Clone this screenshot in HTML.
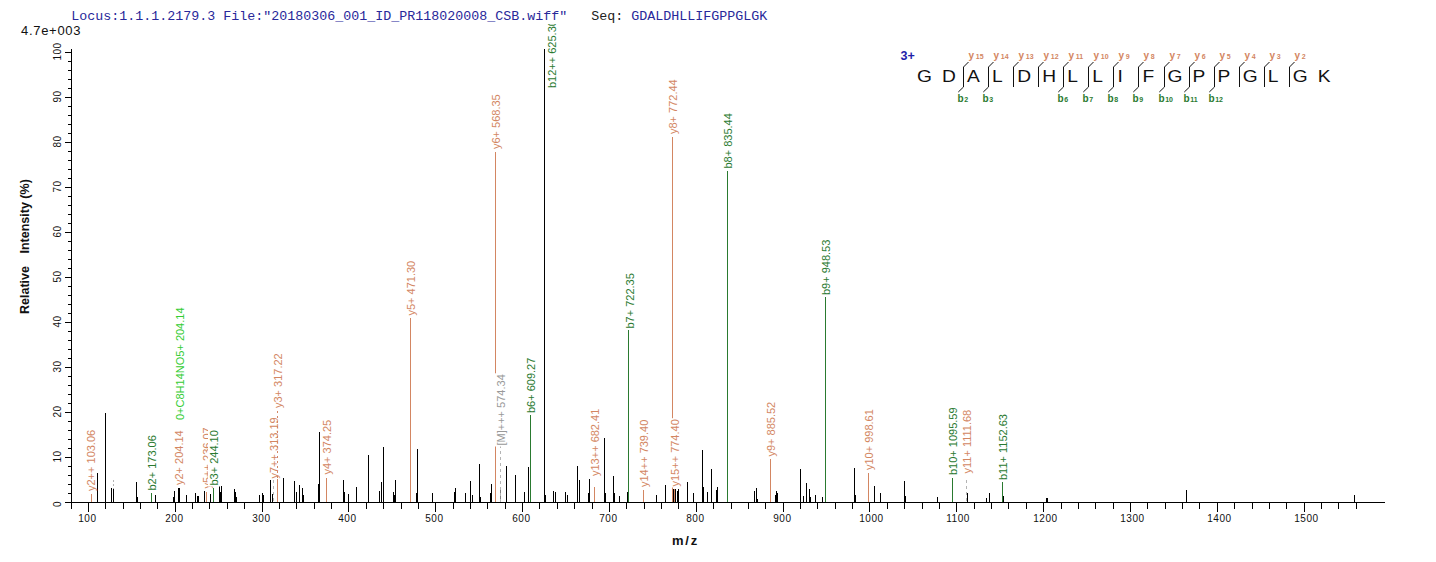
<!DOCTYPE html><html><head><meta charset="utf-8"><style>html,body{margin:0;padding:0;background:#fff;}svg{display:block;}text{font-family:"Liberation Sans",sans-serif;} .mono{font-family:"Liberation Mono",monospace;}</style></head><body>
<svg width="1436" height="562" viewBox="0 0 1436 562">
<rect x="0" y="0" width="1436" height="562" fill="#fff"/>
<text class="mono" x="71.3" y="19.8" font-size="13.33" fill="#28289a" style="white-space:pre" xml:space="preserve">Locus:1.1.1.2179.3 File:"20180306_001_ID_PR118020008_CSB.wiff"   <tspan fill="#222">Seq:</tspan> GDALDHLLIFGPPGLGK</text>
<text x="21" y="35" font-size="13" letter-spacing="0.7" fill="#111">4.7e+003</text>
<g shape-rendering="crispEdges">
<rect x="71" y="49" width="1" height="454" fill="#000000"/>
<rect x="71" y="502" width="1314" height="1" fill="#000000"/>
<rect x="65" y="502" width="6" height="1" fill="#000000"/>
<rect x="68" y="493" width="3" height="1" fill="#000000"/>
<rect x="68" y="484" width="3" height="1" fill="#000000"/>
<rect x="68" y="475" width="3" height="1" fill="#000000"/>
<rect x="68" y="466" width="3" height="1" fill="#000000"/>
<rect x="65" y="457" width="6" height="1" fill="#000000"/>
<rect x="68" y="448" width="3" height="1" fill="#000000"/>
<rect x="68" y="439" width="3" height="1" fill="#000000"/>
<rect x="68" y="430" width="3" height="1" fill="#000000"/>
<rect x="68" y="421" width="3" height="1" fill="#000000"/>
<rect x="65" y="412" width="6" height="1" fill="#000000"/>
<rect x="68" y="403" width="3" height="1" fill="#000000"/>
<rect x="68" y="394" width="3" height="1" fill="#000000"/>
<rect x="68" y="385" width="3" height="1" fill="#000000"/>
<rect x="68" y="376" width="3" height="1" fill="#000000"/>
<rect x="65" y="367" width="6" height="1" fill="#000000"/>
<rect x="68" y="358" width="3" height="1" fill="#000000"/>
<rect x="68" y="349" width="3" height="1" fill="#000000"/>
<rect x="68" y="340" width="3" height="1" fill="#000000"/>
<rect x="68" y="331" width="3" height="1" fill="#000000"/>
<rect x="65" y="322" width="6" height="1" fill="#000000"/>
<rect x="68" y="313" width="3" height="1" fill="#000000"/>
<rect x="68" y="304" width="3" height="1" fill="#000000"/>
<rect x="68" y="295" width="3" height="1" fill="#000000"/>
<rect x="68" y="286" width="3" height="1" fill="#000000"/>
<rect x="65" y="277" width="6" height="1" fill="#000000"/>
<rect x="68" y="268" width="3" height="1" fill="#000000"/>
<rect x="68" y="259" width="3" height="1" fill="#000000"/>
<rect x="68" y="250" width="3" height="1" fill="#000000"/>
<rect x="68" y="241" width="3" height="1" fill="#000000"/>
<rect x="65" y="232" width="6" height="1" fill="#000000"/>
<rect x="68" y="223" width="3" height="1" fill="#000000"/>
<rect x="68" y="214" width="3" height="1" fill="#000000"/>
<rect x="68" y="205" width="3" height="1" fill="#000000"/>
<rect x="68" y="196" width="3" height="1" fill="#000000"/>
<rect x="65" y="187" width="6" height="1" fill="#000000"/>
<rect x="68" y="178" width="3" height="1" fill="#000000"/>
<rect x="68" y="169" width="3" height="1" fill="#000000"/>
<rect x="68" y="160" width="3" height="1" fill="#000000"/>
<rect x="68" y="151" width="3" height="1" fill="#000000"/>
<rect x="65" y="142" width="6" height="1" fill="#000000"/>
<rect x="68" y="133" width="3" height="1" fill="#000000"/>
<rect x="68" y="124" width="3" height="1" fill="#000000"/>
<rect x="68" y="115" width="3" height="1" fill="#000000"/>
<rect x="68" y="106" width="3" height="1" fill="#000000"/>
<rect x="65" y="97" width="6" height="1" fill="#000000"/>
<rect x="68" y="88" width="3" height="1" fill="#000000"/>
<rect x="68" y="79" width="3" height="1" fill="#000000"/>
<rect x="68" y="70" width="3" height="1" fill="#000000"/>
<rect x="68" y="61" width="3" height="1" fill="#000000"/>
<rect x="65" y="52" width="6" height="1" fill="#000000"/>
<rect x="71" y="503" width="1" height="6" fill="#000000"/>
<rect x="88" y="503" width="1" height="9" fill="#000000"/>
<rect x="105" y="503" width="1" height="6" fill="#000000"/>
<rect x="123" y="503" width="1" height="6" fill="#000000"/>
<rect x="140" y="503" width="1" height="6" fill="#000000"/>
<rect x="157" y="503" width="1" height="6" fill="#000000"/>
<rect x="175" y="503" width="1" height="9" fill="#000000"/>
<rect x="192" y="503" width="1" height="6" fill="#000000"/>
<rect x="209" y="503" width="1" height="6" fill="#000000"/>
<rect x="227" y="503" width="1" height="6" fill="#000000"/>
<rect x="244" y="503" width="1" height="6" fill="#000000"/>
<rect x="262" y="503" width="1" height="9" fill="#000000"/>
<rect x="279" y="503" width="1" height="6" fill="#000000"/>
<rect x="296" y="503" width="1" height="6" fill="#000000"/>
<rect x="314" y="503" width="1" height="6" fill="#000000"/>
<rect x="331" y="503" width="1" height="6" fill="#000000"/>
<rect x="348" y="503" width="1" height="9" fill="#000000"/>
<rect x="366" y="503" width="1" height="6" fill="#000000"/>
<rect x="383" y="503" width="1" height="6" fill="#000000"/>
<rect x="401" y="503" width="1" height="6" fill="#000000"/>
<rect x="418" y="503" width="1" height="6" fill="#000000"/>
<rect x="435" y="503" width="1" height="9" fill="#000000"/>
<rect x="453" y="503" width="1" height="6" fill="#000000"/>
<rect x="470" y="503" width="1" height="6" fill="#000000"/>
<rect x="487" y="503" width="1" height="6" fill="#000000"/>
<rect x="505" y="503" width="1" height="6" fill="#000000"/>
<rect x="522" y="503" width="1" height="9" fill="#000000"/>
<rect x="539" y="503" width="1" height="6" fill="#000000"/>
<rect x="557" y="503" width="1" height="6" fill="#000000"/>
<rect x="574" y="503" width="1" height="6" fill="#000000"/>
<rect x="592" y="503" width="1" height="6" fill="#000000"/>
<rect x="609" y="503" width="1" height="9" fill="#000000"/>
<rect x="626" y="503" width="1" height="6" fill="#000000"/>
<rect x="644" y="503" width="1" height="6" fill="#000000"/>
<rect x="661" y="503" width="1" height="6" fill="#000000"/>
<rect x="678" y="503" width="1" height="6" fill="#000000"/>
<rect x="696" y="503" width="1" height="9" fill="#000000"/>
<rect x="713" y="503" width="1" height="6" fill="#000000"/>
<rect x="731" y="503" width="1" height="6" fill="#000000"/>
<rect x="748" y="503" width="1" height="6" fill="#000000"/>
<rect x="765" y="503" width="1" height="6" fill="#000000"/>
<rect x="783" y="503" width="1" height="9" fill="#000000"/>
<rect x="800" y="503" width="1" height="6" fill="#000000"/>
<rect x="817" y="503" width="1" height="6" fill="#000000"/>
<rect x="835" y="503" width="1" height="6" fill="#000000"/>
<rect x="852" y="503" width="1" height="6" fill="#000000"/>
<rect x="869" y="503" width="1" height="9" fill="#000000"/>
<rect x="887" y="503" width="1" height="6" fill="#000000"/>
<rect x="904" y="503" width="1" height="6" fill="#000000"/>
<rect x="922" y="503" width="1" height="6" fill="#000000"/>
<rect x="939" y="503" width="1" height="6" fill="#000000"/>
<rect x="956" y="503" width="1" height="9" fill="#000000"/>
<rect x="974" y="503" width="1" height="6" fill="#000000"/>
<rect x="991" y="503" width="1" height="6" fill="#000000"/>
<rect x="1008" y="503" width="1" height="6" fill="#000000"/>
<rect x="1026" y="503" width="1" height="6" fill="#000000"/>
<rect x="1043" y="503" width="1" height="9" fill="#000000"/>
<rect x="1061" y="503" width="1" height="6" fill="#000000"/>
<rect x="1078" y="503" width="1" height="6" fill="#000000"/>
<rect x="1095" y="503" width="1" height="6" fill="#000000"/>
<rect x="1113" y="503" width="1" height="6" fill="#000000"/>
<rect x="1130" y="503" width="1" height="9" fill="#000000"/>
<rect x="1147" y="503" width="1" height="6" fill="#000000"/>
<rect x="1165" y="503" width="1" height="6" fill="#000000"/>
<rect x="1182" y="503" width="1" height="6" fill="#000000"/>
<rect x="1199" y="503" width="1" height="6" fill="#000000"/>
<rect x="1217" y="503" width="1" height="9" fill="#000000"/>
<rect x="1234" y="503" width="1" height="6" fill="#000000"/>
<rect x="1252" y="503" width="1" height="6" fill="#000000"/>
<rect x="1269" y="503" width="1" height="6" fill="#000000"/>
<rect x="1286" y="503" width="1" height="6" fill="#000000"/>
<rect x="1304" y="503" width="1" height="9" fill="#000000"/>
<rect x="1321" y="503" width="1" height="6" fill="#000000"/>
<rect x="1338" y="503" width="1" height="6" fill="#000000"/>
<rect x="1356" y="503" width="1" height="6" fill="#000000"/>
</g>
<text transform="translate(60.5,504.0) rotate(-90)" text-anchor="middle" font-size="10" letter-spacing="0.5" fill="#111">0</text>
<text transform="translate(60.5,456.5) rotate(-90)" text-anchor="middle" font-size="10" letter-spacing="0.5" fill="#111">10</text>
<text transform="translate(60.5,411.5) rotate(-90)" text-anchor="middle" font-size="10" letter-spacing="0.5" fill="#111">20</text>
<text transform="translate(60.5,366.5) rotate(-90)" text-anchor="middle" font-size="10" letter-spacing="0.5" fill="#111">30</text>
<text transform="translate(60.5,321.5) rotate(-90)" text-anchor="middle" font-size="10" letter-spacing="0.5" fill="#111">40</text>
<text transform="translate(60.5,276.5) rotate(-90)" text-anchor="middle" font-size="10" letter-spacing="0.5" fill="#111">50</text>
<text transform="translate(60.5,231.5) rotate(-90)" text-anchor="middle" font-size="10" letter-spacing="0.5" fill="#111">60</text>
<text transform="translate(60.5,186.5) rotate(-90)" text-anchor="middle" font-size="10" letter-spacing="0.5" fill="#111">70</text>
<text transform="translate(60.5,141.5) rotate(-90)" text-anchor="middle" font-size="10" letter-spacing="0.5" fill="#111">80</text>
<text transform="translate(60.5,96.5) rotate(-90)" text-anchor="middle" font-size="10" letter-spacing="0.5" fill="#111">90</text>
<text transform="translate(60.5,51.5) rotate(-90)" text-anchor="middle" font-size="10" letter-spacing="0.5" fill="#111">100</text>
<text x="78.3" y="522" font-size="10" letter-spacing="0.5" fill="#111">100</text>
<text x="165.3" y="522" font-size="10" letter-spacing="0.5" fill="#111">200</text>
<text x="252.3" y="522" font-size="10" letter-spacing="0.5" fill="#111">300</text>
<text x="338.3" y="522" font-size="10" letter-spacing="0.5" fill="#111">400</text>
<text x="425.3" y="522" font-size="10" letter-spacing="0.5" fill="#111">500</text>
<text x="512.3" y="522" font-size="10" letter-spacing="0.5" fill="#111">600</text>
<text x="599.3" y="522" font-size="10" letter-spacing="0.5" fill="#111">700</text>
<text x="686.3" y="522" font-size="10" letter-spacing="0.5" fill="#111">800</text>
<text x="773.3" y="522" font-size="10" letter-spacing="0.5" fill="#111">900</text>
<text x="859.3" y="522" font-size="10" letter-spacing="0.5" fill="#111">1000</text>
<text x="946.3" y="522" font-size="10" letter-spacing="0.5" fill="#111">1100</text>
<text x="1033.3" y="522" font-size="10" letter-spacing="0.5" fill="#111">1200</text>
<text x="1120.3" y="522" font-size="10" letter-spacing="0.5" fill="#111">1300</text>
<text x="1207.3" y="522" font-size="10" letter-spacing="0.5" fill="#111">1400</text>
<text x="1294.3" y="522" font-size="10" letter-spacing="0.5" fill="#111">1500</text>
<text transform="translate(29,314) rotate(-90)" font-size="12.5" font-weight="bold" fill="#111">Relative</text>
<text transform="translate(29,253.5) rotate(-90)" font-size="12.5" font-weight="bold" fill="#111">Intensity (%)</text>
<text x="672" y="545" font-size="13" font-weight="bold" letter-spacing="1.8" fill="#111">m/z</text>
<defs><clipPath id="pc"><rect x="0" y="24" width="1436" height="500"/></clipPath></defs>
<g clip-path="url(#pc)">
<g shape-rendering="crispEdges">
<rect x="97" y="473" width="1" height="29" fill="#000000"/>
<rect x="105" y="413" width="1" height="89" fill="#000000"/>
<rect x="111" y="488" width="1" height="14" fill="#000000"/>
<rect x="113" y="489" width="1" height="13" fill="#000000"/>
<rect x="136" y="482" width="1" height="20" fill="#000000"/>
<rect x="137" y="497" width="1" height="5" fill="#000000"/>
<rect x="155" y="495" width="1" height="7" fill="#000000"/>
<rect x="173" y="497" width="1" height="5" fill="#000000"/>
<rect x="174" y="491" width="1" height="11" fill="#000000"/>
<rect x="178" y="488" width="1" height="14" fill="#000000"/>
<rect x="179" y="488" width="1" height="14" fill="#000000"/>
<rect x="186" y="495" width="1" height="7" fill="#000000"/>
<rect x="195" y="493" width="1" height="9" fill="#000000"/>
<rect x="197" y="496" width="1" height="6" fill="#000000"/>
<rect x="198" y="496" width="1" height="6" fill="#000000"/>
<rect x="204" y="491" width="1" height="11" fill="#000000"/>
<rect x="210" y="494" width="1" height="8" fill="#000000"/>
<rect x="219" y="486" width="1" height="16" fill="#000000"/>
<rect x="220" y="492" width="1" height="10" fill="#000000"/>
<rect x="221" y="486" width="1" height="16" fill="#000000"/>
<rect x="234" y="489" width="1" height="13" fill="#000000"/>
<rect x="235" y="492" width="1" height="10" fill="#000000"/>
<rect x="236" y="497" width="1" height="5" fill="#000000"/>
<rect x="259" y="495" width="1" height="7" fill="#000000"/>
<rect x="262" y="493" width="1" height="9" fill="#000000"/>
<rect x="263" y="495" width="1" height="7" fill="#000000"/>
<rect x="270" y="480" width="1" height="22" fill="#000000"/>
<rect x="272" y="494" width="1" height="8" fill="#000000"/>
<rect x="283" y="478" width="1" height="24" fill="#000000"/>
<rect x="294" y="481" width="1" height="21" fill="#000000"/>
<rect x="296" y="492" width="1" height="10" fill="#000000"/>
<rect x="299" y="485" width="1" height="17" fill="#000000"/>
<rect x="302" y="488" width="1" height="14" fill="#000000"/>
<rect x="303" y="495" width="1" height="7" fill="#000000"/>
<rect x="318" y="484" width="1" height="18" fill="#000000"/>
<rect x="319" y="432" width="1" height="70" fill="#000000"/>
<rect x="343" y="480" width="1" height="22" fill="#000000"/>
<rect x="344" y="492" width="1" height="10" fill="#000000"/>
<rect x="348" y="494" width="1" height="8" fill="#000000"/>
<rect x="356" y="487" width="1" height="15" fill="#000000"/>
<rect x="368" y="455" width="1" height="47" fill="#000000"/>
<rect x="379" y="491" width="1" height="11" fill="#000000"/>
<rect x="381" y="482" width="1" height="20" fill="#000000"/>
<rect x="383" y="447" width="1" height="55" fill="#000000"/>
<rect x="393" y="492" width="1" height="10" fill="#000000"/>
<rect x="394" y="495" width="1" height="7" fill="#000000"/>
<rect x="395" y="480" width="1" height="22" fill="#000000"/>
<rect x="416" y="493" width="1" height="9" fill="#000000"/>
<rect x="417" y="449" width="1" height="53" fill="#000000"/>
<rect x="432" y="493" width="1" height="9" fill="#000000"/>
<rect x="454" y="492" width="1" height="10" fill="#000000"/>
<rect x="455" y="488" width="1" height="14" fill="#000000"/>
<rect x="465" y="493" width="1" height="9" fill="#000000"/>
<rect x="470" y="481" width="1" height="21" fill="#000000"/>
<rect x="472" y="495" width="1" height="7" fill="#000000"/>
<rect x="479" y="464" width="1" height="38" fill="#000000"/>
<rect x="480" y="497" width="1" height="5" fill="#000000"/>
<rect x="490" y="493" width="1" height="9" fill="#000000"/>
<rect x="491" y="484" width="1" height="18" fill="#000000"/>
<rect x="506" y="466" width="1" height="36" fill="#000000"/>
<rect x="515" y="475" width="1" height="27" fill="#000000"/>
<rect x="524" y="492" width="1" height="10" fill="#000000"/>
<rect x="528" y="467" width="1" height="35" fill="#000000"/>
<rect x="544" y="49" width="1" height="453" fill="#000000"/>
<rect x="545" y="495" width="1" height="7" fill="#000000"/>
<rect x="553" y="491" width="1" height="11" fill="#000000"/>
<rect x="555" y="492" width="1" height="10" fill="#000000"/>
<rect x="565" y="492" width="1" height="10" fill="#000000"/>
<rect x="567" y="495" width="1" height="7" fill="#000000"/>
<rect x="577" y="466" width="1" height="36" fill="#000000"/>
<rect x="579" y="480" width="1" height="22" fill="#000000"/>
<rect x="588" y="493" width="1" height="9" fill="#000000"/>
<rect x="589" y="479" width="1" height="23" fill="#000000"/>
<rect x="604" y="438" width="1" height="64" fill="#000000"/>
<rect x="605" y="493" width="1" height="9" fill="#000000"/>
<rect x="613" y="476" width="1" height="26" fill="#000000"/>
<rect x="614" y="493" width="1" height="9" fill="#000000"/>
<rect x="619" y="496" width="1" height="6" fill="#000000"/>
<rect x="627" y="492" width="1" height="10" fill="#000000"/>
<rect x="656" y="495" width="1" height="7" fill="#000000"/>
<rect x="665" y="485" width="1" height="17" fill="#000000"/>
<rect x="673" y="489" width="1" height="13" fill="#000000"/>
<rect x="675" y="489" width="1" height="13" fill="#000000"/>
<rect x="677" y="491" width="1" height="11" fill="#000000"/>
<rect x="678" y="489" width="1" height="13" fill="#000000"/>
<rect x="687" y="482" width="1" height="20" fill="#000000"/>
<rect x="693" y="493" width="1" height="9" fill="#000000"/>
<rect x="702" y="450" width="1" height="52" fill="#000000"/>
<rect x="703" y="487" width="1" height="15" fill="#000000"/>
<rect x="707" y="492" width="1" height="10" fill="#000000"/>
<rect x="711" y="469" width="1" height="33" fill="#000000"/>
<rect x="716" y="490" width="1" height="12" fill="#000000"/>
<rect x="717" y="487" width="1" height="15" fill="#000000"/>
<rect x="754" y="491" width="1" height="11" fill="#000000"/>
<rect x="756" y="488" width="1" height="14" fill="#000000"/>
<rect x="757" y="499" width="1" height="3" fill="#000000"/>
<rect x="775" y="495" width="1" height="7" fill="#000000"/>
<rect x="776" y="491" width="1" height="11" fill="#000000"/>
<rect x="777" y="493" width="1" height="9" fill="#000000"/>
<rect x="800" y="469" width="1" height="33" fill="#000000"/>
<rect x="803" y="496" width="1" height="6" fill="#000000"/>
<rect x="806" y="483" width="1" height="19" fill="#000000"/>
<rect x="809" y="489" width="1" height="13" fill="#000000"/>
<rect x="810" y="497" width="1" height="5" fill="#000000"/>
<rect x="815" y="495" width="1" height="7" fill="#000000"/>
<rect x="822" y="497" width="1" height="5" fill="#000000"/>
<rect x="854" y="468" width="1" height="34" fill="#000000"/>
<rect x="855" y="495" width="1" height="7" fill="#000000"/>
<rect x="874" y="486" width="1" height="16" fill="#000000"/>
<rect x="880" y="493" width="1" height="9" fill="#000000"/>
<rect x="904" y="481" width="1" height="21" fill="#000000"/>
<rect x="905" y="496" width="1" height="6" fill="#000000"/>
<rect x="937" y="497" width="1" height="5" fill="#000000"/>
<rect x="967" y="493" width="1" height="9" fill="#000000"/>
<rect x="986" y="498" width="1" height="4" fill="#000000"/>
<rect x="989" y="493" width="1" height="9" fill="#000000"/>
<rect x="1003" y="496" width="1" height="6" fill="#000000"/>
<rect x="1046" y="498" width="1" height="4" fill="#000000"/>
<rect x="1047" y="498" width="1" height="4" fill="#000000"/>
<rect x="1186" y="490" width="1" height="12" fill="#000000"/>
<rect x="1354" y="495" width="1" height="7" fill="#000000"/>
</g>
<rect x="500" y="488" width="1" height="14" fill="#808080"/>
<line x1="113.5" y1="480" x2="113.5" y2="489" stroke="#b4b4b4" stroke-width="1" stroke-dasharray="2,2" shape-rendering="crispEdges"/>
<rect x="91" y="494" width="1" height="8" fill="#d38662" shape-rendering="crispEdges"/>
<g transform="translate(94.5,491.0) rotate(-90)"><rect x="-1" y="-10" width="63.2" height="12.5" fill="#fff"/><text x="0" y="0" font-size="11" fill="#d38662">y2++ 103.06</text></g>
<rect x="151" y="493" width="1" height="9" fill="#2a7a30" shape-rendering="crispEdges"/>
<g transform="translate(156.0,490.5) rotate(-90)"><rect x="-1" y="-10" width="57.4" height="12.5" fill="#fff"/><text x="0" y="0" font-size="11" fill="#2a7a30">b2+ 173.06</text></g>
<g transform="translate(183.0,485.0) rotate(-90)"><rect x="-1" y="-10" width="56.7" height="12.5" fill="#fff"/><text x="0" y="0" font-size="11" fill="#d38662">y2+ 204.14</text></g>
<g transform="translate(183.5,420.0) rotate(-90)"><rect x="-1" y="-10" width="114.5" height="12.5" fill="#fff"/><text x="0" y="0" font-size="11" fill="#33cc33">0+C8H14NO5+ 204.14</text></g>
<rect x="206" y="492" width="1" height="10" fill="#d38662" shape-rendering="crispEdges"/>
<g transform="translate(211.0,488.5) rotate(-90)"><rect x="-1" y="-10" width="63.2" height="12.5" fill="#fff"/><text x="0" y="0" font-size="11" fill="#d38662">y5++ 236.07</text></g>
<rect x="213" y="488" width="1" height="14" fill="#2a7a30" shape-rendering="crispEdges"/>
<g transform="translate(218.0,485.5) rotate(-90)"><rect x="-1" y="-10" width="57.4" height="12.5" fill="#fff"/><text x="0" y="0" font-size="11" fill="#2a7a30">b3+ 244.10</text></g>
<line x1="273.5" y1="480" x2="273.5" y2="502" stroke="#b4b4b4" stroke-width="1" stroke-dasharray="3,3" shape-rendering="crispEdges"/>
<g transform="translate(278.0,478.5) rotate(-90)"><rect x="-1" y="-10" width="63.2" height="12.5" fill="#fff"/><text x="0" y="0" font-size="11" fill="#d38662">y7++ 313.19</text></g>
<rect x="277" y="479" width="1" height="23" fill="#d38662" shape-rendering="crispEdges"/>
<g transform="translate(282.0,408.0) rotate(-90)"><rect x="-1" y="-10" width="56.7" height="12.5" fill="#fff"/><text x="0" y="0" font-size="11" fill="#d38662">y3+ 317.22</text></g>
<line x1="277.5" y1="411" x2="277.5" y2="479" stroke="#d38662" stroke-width="1" stroke-dasharray="2,3" shape-rendering="crispEdges"/>
<rect x="326" y="478" width="1" height="24" fill="#d38662" shape-rendering="crispEdges"/>
<g transform="translate(330.5,474.5) rotate(-90)"><rect x="-1" y="-10" width="56.7" height="12.5" fill="#fff"/><text x="0" y="0" font-size="11" fill="#d38662">y4+ 374.25</text></g>
<rect x="410" y="318" width="1" height="184" fill="#d38662" shape-rendering="crispEdges"/>
<g transform="translate(414.5,315.5) rotate(-90)"><rect x="-1" y="-10" width="56.7" height="12.5" fill="#fff"/><text x="0" y="0" font-size="11" fill="#d38662">y5+ 471.30</text></g>
<rect x="495" y="152" width="1" height="350" fill="#d38662" shape-rendering="crispEdges"/>
<g transform="translate(499.5,149.0) rotate(-90)"><rect x="-1" y="-10" width="56.7" height="12.5" fill="#fff"/><text x="0" y="0" font-size="11" fill="#d38662">y6+ 568.35</text></g>
<line x1="500.5" y1="445" x2="500.5" y2="502" stroke="#b4b4b4" stroke-width="1" stroke-dasharray="3,3" shape-rendering="crispEdges"/>
<g transform="translate(504.5,445.5) rotate(-90)"><rect x="-1" y="-10" width="73.2" height="12.5" fill="#fff"/><text x="0" y="0" font-size="11" fill="#999999">[M]+++ 574.34</text></g>
<rect x="530" y="415" width="1" height="87" fill="#2a7a30" shape-rendering="crispEdges"/>
<g transform="translate(535.0,413.0) rotate(-90)"><rect x="-1" y="-10" width="57.4" height="12.5" fill="#fff"/><text x="0" y="0" font-size="11" fill="#2a7a30">b6+ 609.27</text></g>
<g transform="translate(555.5,88.0) rotate(-90)"><rect x="-1" y="-10" width="69.9" height="12.5" fill="#fff"/><text x="0" y="0" font-size="11" fill="#2a7a30">b12++ 625.30</text></g>
<rect x="594" y="487" width="1" height="15" fill="#d38662" shape-rendering="crispEdges"/>
<g transform="translate(598.5,476.0) rotate(-90)"><rect x="-1" y="-10" width="69.3" height="12.5" fill="#fff"/><text x="0" y="0" font-size="11" fill="#d38662">y13++ 682.41</text></g>
<rect x="628" y="330" width="1" height="172" fill="#2a7a30" shape-rendering="crispEdges"/>
<g transform="translate(633.5,328.5) rotate(-90)"><rect x="-1" y="-10" width="57.4" height="12.5" fill="#fff"/><text x="0" y="0" font-size="11" fill="#2a7a30">b7+ 722.35</text></g>
<rect x="643" y="490" width="1" height="12" fill="#d38662" shape-rendering="crispEdges"/>
<g transform="translate(647.5,487.0) rotate(-90)"><rect x="-1" y="-10" width="69.3" height="12.5" fill="#fff"/><text x="0" y="0" font-size="11" fill="#d38662">y14++ 739.40</text></g>
<rect x="672" y="137" width="1" height="365" fill="#d38662" shape-rendering="crispEdges"/>
<g transform="translate(676.5,134.0) rotate(-90)"><rect x="-1" y="-10" width="56.7" height="12.5" fill="#fff"/><text x="0" y="0" font-size="11" fill="#d38662">y8+ 772.44</text></g>
<rect x="674" y="489" width="1" height="13" fill="#d38662" shape-rendering="crispEdges"/>
<g transform="translate(678.5,486.5) rotate(-90)"><rect x="-1" y="-10" width="69.3" height="12.5" fill="#fff"/><text x="0" y="0" font-size="11" fill="#d38662">y15++ 774.40</text></g>
<rect x="727" y="171" width="1" height="331" fill="#2a7a30" shape-rendering="crispEdges"/>
<g transform="translate(732.0,168.5) rotate(-90)"><rect x="-1" y="-10" width="57.4" height="12.5" fill="#fff"/><text x="0" y="0" font-size="11" fill="#2a7a30">b8+ 835.44</text></g>
<rect x="770" y="459" width="1" height="43" fill="#d38662" shape-rendering="crispEdges"/>
<g transform="translate(775.0,456.5) rotate(-90)"><rect x="-1" y="-10" width="56.7" height="12.5" fill="#fff"/><text x="0" y="0" font-size="11" fill="#d38662">y9+ 885.52</text></g>
<rect x="825" y="297" width="1" height="205" fill="#2a7a30" shape-rendering="crispEdges"/>
<g transform="translate(830.0,295.0) rotate(-90)"><rect x="-1" y="-10" width="57.4" height="12.5" fill="#fff"/><text x="0" y="0" font-size="11" fill="#2a7a30">b9+ 948.53</text></g>
<rect x="868" y="473" width="1" height="29" fill="#d38662" shape-rendering="crispEdges"/>
<g transform="translate(872.5,470.0) rotate(-90)"><rect x="-1" y="-10" width="62.9" height="12.5" fill="#fff"/><text x="0" y="0" font-size="11" fill="#d38662">y10+ 998.61</text></g>
<rect x="952" y="478" width="1" height="24" fill="#2a7a30" shape-rendering="crispEdges"/>
<g transform="translate(957.0,475.0) rotate(-90)"><rect x="-1" y="-10" width="69.6" height="12.5" fill="#fff"/><text x="0" y="0" font-size="11" fill="#2a7a30">b10+ 1095.59</text></g>
<line x1="966.5" y1="480" x2="966.5" y2="502" stroke="#b4b4b4" stroke-width="1" stroke-dasharray="3,3" shape-rendering="crispEdges"/>
<g transform="translate(970.5,473.5) rotate(-90)"><rect x="-1" y="-10" width="65.7" height="12.5" fill="#fff"/><text x="0" y="0" font-size="11" fill="#d38662">y11+ 1111.68</text></g>
<rect x="1002" y="482" width="1" height="20" fill="#2a7a30" shape-rendering="crispEdges"/>
<g transform="translate(1007.0,480.0) rotate(-90)"><rect x="-1" y="-10" width="68.0" height="12.5" fill="#fff"/><text x="0" y="0" font-size="11" fill="#2a7a30">b11+ 1152.63</text></g>
</g>
<text x="900.5" y="60" font-size="12.5" font-weight="bold" fill="#1e1eaa">3+</text>
<text transform="translate(917.0,82) scale(1.2,1)" font-size="16" fill="#111">G</text>
<text transform="translate(942.0,82) scale(1.2,1)" font-size="16" fill="#111">D</text>
<text transform="translate(967.1,82) scale(1.2,1)" font-size="16" fill="#111">A</text>
<text transform="translate(992.1,82) scale(1.2,1)" font-size="16" fill="#111">L</text>
<text transform="translate(1017.2,82) scale(1.2,1)" font-size="16" fill="#111">D</text>
<text transform="translate(1042.2,82) scale(1.2,1)" font-size="16" fill="#111">H</text>
<text transform="translate(1067.3,82) scale(1.2,1)" font-size="16" fill="#111">L</text>
<text transform="translate(1092.3,82) scale(1.2,1)" font-size="16" fill="#111">L</text>
<text transform="translate(1117.4,82) scale(1.2,1)" font-size="16" fill="#111">I</text>
<text transform="translate(1142.5,82) scale(1.2,1)" font-size="16" fill="#111">F</text>
<text transform="translate(1167.5,82) scale(1.2,1)" font-size="16" fill="#111">G</text>
<text transform="translate(1192.5,82) scale(1.2,1)" font-size="16" fill="#111">P</text>
<text transform="translate(1217.6,82) scale(1.2,1)" font-size="16" fill="#111">P</text>
<text transform="translate(1242.7,82) scale(1.2,1)" font-size="16" fill="#111">G</text>
<text transform="translate(1267.7,82) scale(1.2,1)" font-size="16" fill="#111">L</text>
<text transform="translate(1292.8,82) scale(1.2,1)" font-size="16" fill="#111">G</text>
<text transform="translate(1317.8,82) scale(1.2,1)" font-size="16" fill="#111">K</text>
<text x="968.5" y="58.5" font-size="10" font-weight="bold" fill="#d38662">y<tspan font-size="7" dx="1.8">15</tspan></text>
<text x="957.5" y="101.5" font-size="10" font-weight="bold" fill="#2a7a30">b<tspan font-size="7" dy="0.8" dx="0.6">2</tspan></text>
<path d="M963.5,67 L963.5,87 M963.5,67 L968.5,62 M963.5,87 L958.3,92" stroke="#111" stroke-width="1" fill="none"/>
<text x="993.5" y="58.5" font-size="10" font-weight="bold" fill="#d38662">y<tspan font-size="7" dx="1.8">14</tspan></text>
<text x="982.5" y="101.5" font-size="10" font-weight="bold" fill="#2a7a30">b<tspan font-size="7" dy="0.8" dx="0.6">3</tspan></text>
<path d="M988.5,67 L988.5,87 M988.5,67 L993.5,62 M988.5,87 L983.3,92" stroke="#111" stroke-width="1" fill="none"/>
<text x="1018.5" y="58.5" font-size="10" font-weight="bold" fill="#d38662">y<tspan font-size="7" dx="1.8">13</tspan></text>
<path d="M1013.5,67 L1013.5,87 M1013.5,67 L1018.5,62" stroke="#111" stroke-width="1" fill="none"/>
<text x="1043.5" y="58.5" font-size="10" font-weight="bold" fill="#d38662">y<tspan font-size="7" dx="1.8">12</tspan></text>
<path d="M1038.5,67 L1038.5,87 M1038.5,67 L1043.5,62" stroke="#111" stroke-width="1" fill="none"/>
<text x="1068.5" y="58.5" font-size="10" font-weight="bold" fill="#d38662">y<tspan font-size="7" dx="1.8">11</tspan></text>
<text x="1057.5" y="101.5" font-size="10" font-weight="bold" fill="#2a7a30">b<tspan font-size="7" dy="0.8" dx="0.6">6</tspan></text>
<path d="M1063.5,67 L1063.5,87 M1063.5,67 L1068.5,62 M1063.5,87 L1058.3,92" stroke="#111" stroke-width="1" fill="none"/>
<text x="1093.5" y="58.5" font-size="10" font-weight="bold" fill="#d38662">y<tspan font-size="7" dx="1.8">10</tspan></text>
<text x="1082.5" y="101.5" font-size="10" font-weight="bold" fill="#2a7a30">b<tspan font-size="7" dy="0.8" dx="0.6">7</tspan></text>
<path d="M1088.5,67 L1088.5,87 M1088.5,67 L1093.5,62 M1088.5,87 L1083.3,92" stroke="#111" stroke-width="1" fill="none"/>
<text x="1118.5" y="58.5" font-size="10" font-weight="bold" fill="#d38662">y<tspan font-size="7" dx="1.8">9</tspan></text>
<text x="1107.5" y="101.5" font-size="10" font-weight="bold" fill="#2a7a30">b<tspan font-size="7" dy="0.8" dx="0.6">8</tspan></text>
<path d="M1113.5,67 L1113.5,87 M1113.5,67 L1118.5,62 M1113.5,87 L1108.3,92" stroke="#111" stroke-width="1" fill="none"/>
<text x="1143.5" y="58.5" font-size="10" font-weight="bold" fill="#d38662">y<tspan font-size="7" dx="1.8">8</tspan></text>
<text x="1132.5" y="101.5" font-size="10" font-weight="bold" fill="#2a7a30">b<tspan font-size="7" dy="0.8" dx="0.6">9</tspan></text>
<path d="M1138.5,67 L1138.5,87 M1138.5,67 L1143.5,62 M1138.5,87 L1133.3,92" stroke="#111" stroke-width="1" fill="none"/>
<text x="1169.5" y="58.5" font-size="10" font-weight="bold" fill="#d38662">y<tspan font-size="7" dx="1.8">7</tspan></text>
<text x="1158.5" y="101.5" font-size="10" font-weight="bold" fill="#2a7a30">b<tspan font-size="7" dy="0.8" dx="0.6">10</tspan></text>
<path d="M1164.5,67 L1164.5,87 M1164.5,67 L1169.5,62 M1164.5,87 L1159.3,92" stroke="#111" stroke-width="1" fill="none"/>
<text x="1194.5" y="58.5" font-size="10" font-weight="bold" fill="#d38662">y<tspan font-size="7" dx="1.8">6</tspan></text>
<text x="1183.5" y="101.5" font-size="10" font-weight="bold" fill="#2a7a30">b<tspan font-size="7" dy="0.8" dx="0.6">11</tspan></text>
<path d="M1189.5,67 L1189.5,87 M1189.5,67 L1194.5,62 M1189.5,87 L1184.3,92" stroke="#111" stroke-width="1" fill="none"/>
<text x="1219.5" y="58.5" font-size="10" font-weight="bold" fill="#d38662">y<tspan font-size="7" dx="1.8">5</tspan></text>
<text x="1208.5" y="101.5" font-size="10" font-weight="bold" fill="#2a7a30">b<tspan font-size="7" dy="0.8" dx="0.6">12</tspan></text>
<path d="M1214.5,67 L1214.5,87 M1214.5,67 L1219.5,62 M1214.5,87 L1209.3,92" stroke="#111" stroke-width="1" fill="none"/>
<text x="1244.5" y="58.5" font-size="10" font-weight="bold" fill="#d38662">y<tspan font-size="7" dx="1.8">4</tspan></text>
<path d="M1239.5,67 L1239.5,87 M1239.5,67 L1244.5,62" stroke="#111" stroke-width="1" fill="none"/>
<text x="1269.5" y="58.5" font-size="10" font-weight="bold" fill="#d38662">y<tspan font-size="7" dx="1.8">3</tspan></text>
<path d="M1264.5,67 L1264.5,87 M1264.5,67 L1269.5,62" stroke="#111" stroke-width="1" fill="none"/>
<text x="1294.5" y="58.5" font-size="10" font-weight="bold" fill="#d38662">y<tspan font-size="7" dx="1.8">2</tspan></text>
<path d="M1289.5,67 L1289.5,87 M1289.5,67 L1294.5,62" stroke="#111" stroke-width="1" fill="none"/>
</svg></body></html>
